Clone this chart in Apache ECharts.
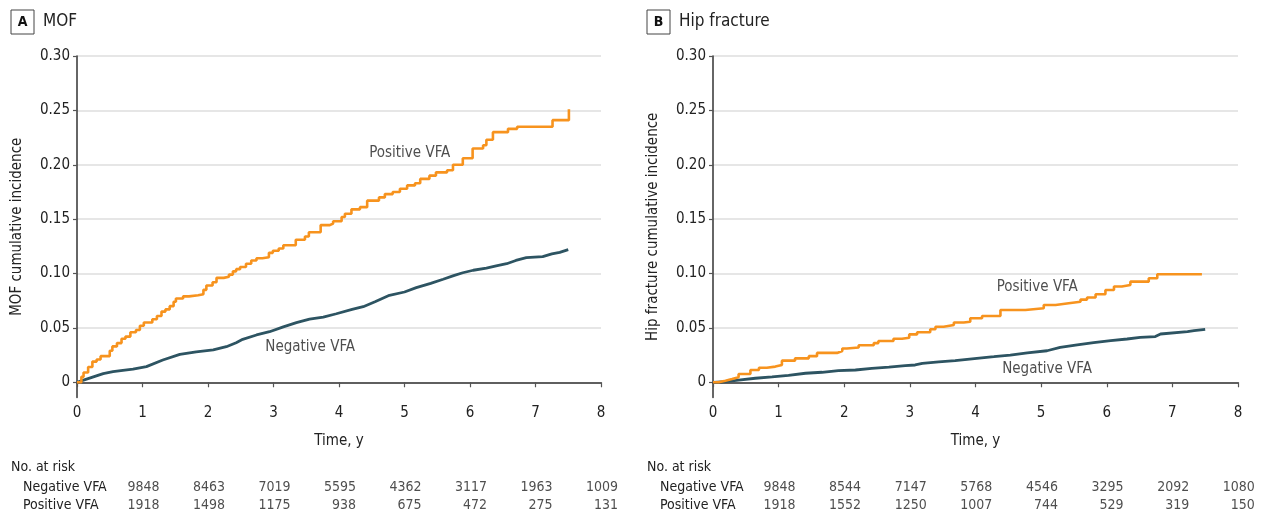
<!DOCTYPE html>
<html>
<head>
<meta charset="utf-8">
<script src="https://cdn.jsdelivr.net/npm/echarts@6/dist/echarts.min.js"></script>
<style>
  html, body { margin: 0; padding: 0; background: #fff; }
  #chart { width: 1262px; height: 515px; }
</style>
</head>
<body>
<div id="chart"></div>
<script>
// tick values
const yearTicks = [0, 1, 2, 3, 4, 5, 6, 7, 8]
const incidenceTicks = [0, 0.05, 0.10, 0.15, 0.20, 0.25, 0.30]

// number at risk, at years 0..7
const riskRows = ['Negative VFA', 'Positive VFA']
const mofRiskNegative = [9848, 8463, 7019, 5595, 4362, 3117, 1963, 1009]
const mofRiskPositive = [1918, 1498, 1175, 938, 675, 472, 275, 131]
const hipRiskNegative = [9848, 8544, 7147, 5768, 4546, 3295, 2092, 1080]
const hipRiskPositive = [1918, 1552, 1250, 1007, 744, 529, 319, 150]

// cumulative incidence curves [time, value]
const mofPositive = [
  [0, 0], [0.067, 0.005], [0.10, 0.009], [0.17, 0.014], [0.235, 0.019], [0.30, 0.021], [0.36, 0.024],
  [0.50, 0.029], [0.54, 0.033], [0.61, 0.036], [0.68, 0.040], [0.74, 0.042], [0.815, 0.046], [0.90, 0.048],
  [0.96, 0.052], [1.02, 0.055], [1.15, 0.058], [1.22, 0.061], [1.29, 0.065], [1.35, 0.067], [1.415, 0.070],
  [1.475, 0.074], [1.51, 0.077], [1.62, 0.079], [1.71, 0.080], [1.85, 0.081], [1.93, 0.085], [1.975, 0.089],
  [2.07, 0.092], [2.13, 0.096], [2.24, 0.097], [2.32, 0.099], [2.38, 0.102], [2.43, 0.104], [2.49, 0.106],
  [2.58, 0.109], [2.66, 0.112], [2.74, 0.114], [2.83, 0.115], [2.93, 0.119], [2.99, 0.121], [3.08, 0.123],
  [3.15, 0.126], [3.34, 0.131], [3.48, 0.134], [3.54, 0.138], [3.72, 0.1445], [3.86, 0.146], [3.91, 0.148],
  [4.04, 0.152], [4.09, 0.155], [4.19, 0.159], [4.32, 0.161], [4.43, 0.167], [4.61, 0.170], [4.70, 0.173],
  [4.82, 0.175], [4.93, 0.178], [5.04, 0.181], [5.16, 0.183], [5.24, 0.187], [5.38, 0.190], [5.48, 0.193],
  [5.65, 0.195], [5.74, 0.200], [5.89, 0.206], [6.04, 0.215], [6.20, 0.218], [6.25, 0.223], [6.35, 0.230],
  [6.58, 0.233], [6.72, 0.235], [7.26, 0.241], [7.51, 0.251]
]
const mofNegative = [
  [0, 0], [0.10, 0.002], [0.25, 0.005], [0.40, 0.008], [0.55, 0.0098], [0.70, 0.011], [0.855, 0.012],
  [1.06, 0.0144], [1.31, 0.0205], [1.57, 0.0257], [1.82, 0.028], [2.08, 0.0297], [2.28, 0.0327],
  [2.43, 0.0364], [2.53, 0.0395], [2.74, 0.0435], [2.94, 0.0465], [3.15, 0.051], [3.35, 0.0548],
  [3.55, 0.058], [3.76, 0.060], [3.96, 0.063], [4.20, 0.067], [4.37, 0.0695], [4.55, 0.074], [4.77, 0.080],
  [5.00, 0.083], [5.18, 0.087], [5.40, 0.091], [5.59, 0.0947], [5.75, 0.098], [5.89, 0.1007], [6.05, 0.103],
  [6.25, 0.105], [6.40, 0.107], [6.56, 0.109], [6.70, 0.112], [6.86, 0.1146], [7.11, 0.1155], [7.25, 0.118],
  [7.37, 0.1195], [7.50, 0.122]
]
const hipPositive = [
  [0, 0], [0.086, 0.0015], [0.19, 0.003], [0.29, 0.0046], [0.39, 0.0076], [0.57, 0.0113], [0.70, 0.0134],
  [0.82, 0.0144], [0.95, 0.0159], [1.05, 0.0199], [1.25, 0.022], [1.46, 0.024], [1.585, 0.027], [1.89, 0.0288],
  [1.97, 0.031], [2.04, 0.032], [2.22, 0.034], [2.45, 0.036], [2.52, 0.038], [2.75, 0.040], [2.88, 0.041],
  [2.99, 0.044], [3.11, 0.046], [3.31, 0.0487], [3.39, 0.051], [3.515, 0.0527], [3.67, 0.055], [3.82, 0.0557],
  [3.92, 0.0588], [4.10, 0.061], [4.38, 0.0665], [4.76, 0.068], [5.04, 0.071], [5.22, 0.0726], [5.42, 0.074],
  [5.60, 0.076], [5.70, 0.078], [5.83, 0.081], [5.98, 0.0848], [6.11, 0.088], [6.23, 0.0894], [6.36, 0.0925],
  [6.64, 0.0956], [6.77, 0.0993], [7.45, 0.0993]
]
const hipNegative = [
  [0, 0], [0.19, 0.0006], [0.39, 0.002], [0.645, 0.0037], [0.90, 0.005], [1.15, 0.0064], [1.41, 0.0083],
  [1.66, 0.0092], [1.91, 0.0107], [2.17, 0.0113], [2.42, 0.0128], [2.68, 0.014], [2.93, 0.0153],
  [3.08, 0.0159], [3.19, 0.0174], [3.44, 0.0187], [3.69, 0.0199], [4.02, 0.022], [4.28, 0.0235],
  [4.53, 0.025], [4.79, 0.027], [5.09, 0.029], [5.29, 0.032], [5.55, 0.0343], [5.80, 0.0364], [6.06, 0.0382],
  [6.31, 0.0398], [6.51, 0.0413], [6.74, 0.042], [6.82, 0.0444], [6.84, 0.0456], [7.23, 0.0465],
  [7.33, 0.0474], [7.50, 0.0487]
]

const FONT = "'Liberation Sans Narrow', 'DejaVu Sans Condensed', 'Roboto Condensed', 'Noto Sans', sans-serif"
const TEXT = '#222'
const ORANGE = '#f7931e'
const TEAL = '#2d5462'

const panels = [
  {left: 77, right: 661, letter: 'A', title: 'MOF', yName: 'MOF cumulative incidence',
   pos: mofPositive, neg: mofNegative, riskNeg: mofRiskNegative, riskPos: mofRiskPositive,
   posLabel: [5.08, 0.211], negLabel: [3.56, 0.032]},
  {left: 713, right: 24, letter: 'B', title: 'Hip fracture', yName: 'Hip fracture cumulative incidence',
   pos: hipPositive, neg: hipNegative, riskNeg: hipRiskNegative, riskPos: hipRiskPositive,
   posLabel: [4.94, 0.0877], negLabel: [5.09, 0.012]}
]

const grid = [], xAxis = [], yAxis = [], series = [], graphic = []

panels.forEach(function (p, i) {
  grid.push({left: p.left, right: p.right, top: 56, bottom: 117.5})
  grid.push({left: p.left, right: p.right, top: 477.5, height: 38})

  xAxis.push({
    gridIndex: 2 * i, type: 'value', min: 0, max: 8, interval: 1,
    name: 'Time, y', nameLocation: 'middle', nameGap: 36,
    nameTextStyle: {color: TEXT, fontSize: 15, fontFamily: FONT},
    axisLine: {lineStyle: {color: '#333', width: 1.5}},
    axisTick: {length: 5, lineStyle: {color: '#555', width: 1.2}},
    axisLabel: {color: TEXT, fontSize: 15, fontFamily: FONT, margin: 8},
    splitLine: {show: false}
  })
  xAxis.push({gridIndex: 2 * i + 1, type: 'value', min: 0, max: 8, show: false})

  yAxis.push({
    gridIndex: 2 * i, type: 'value', min: -0.014, max: 0.3,
    name: p.yName, nameLocation: 'middle', nameGap: 52,
    nameTextStyle: {color: TEXT, fontSize: 15, fontFamily: FONT},
    axisLine: {show: true, lineStyle: {color: '#333', width: 1.5}},
    axisTick: {show: true, length: 4, customValues: incidenceTicks, lineStyle: {color: '#555', width: 1.2}},
    axisLabel: {
      color: TEXT, fontSize: 15, fontFamily: FONT, margin: 7, customValues: incidenceTicks,
      formatter: function (v) { return Math.abs(v) < 1e-9 ? '0' : v.toFixed(2) }
    },
    splitLine: {show: true, lineStyle: {color: '#dedede', width: 1.5}}
  })
  yAxis.push({
    gridIndex: 2 * i + 1, type: 'category', data: riskRows, inverse: true,
    axisLine: {show: false}, axisTick: {show: false},
    axisLabel: {color: TEXT, fontSize: 14, fontFamily: FONT, align: 'left', margin: p.left === 77 ? 54 : 53}
  })

  series.push({
    type: 'line', xAxisIndex: 2 * i, yAxisIndex: 2 * i, data: p.neg,
    showSymbol: false, lineStyle: {color: TEAL, width: 2.8}, z: 3
  })
  series.push({
    type: 'line', xAxisIndex: 2 * i, yAxisIndex: 2 * i, step: 'end', data: p.pos,
    showSymbol: false, lineStyle: {color: ORANGE, width: 2.6}, z: 4
  })
  series.push({
    type: 'scatter', xAxisIndex: 2 * i, yAxisIndex: 2 * i, symbolSize: 0, silent: true,
    data: [p.posLabel.concat('Positive VFA'), p.negLabel.concat('Negative VFA')],
    label: {show: true, position: 'inside', formatter: function (d) { return d.data[2] },
      color: TEXT, fontSize: 15, fontFamily: FONT}
  })

  const rows = p.riskNeg.map(function (n, k) { return [k, riskRows[0], n] })
    .concat(p.riskPos.map(function (n, k) { return [k, riskRows[1], n] }))
  series.push({
    type: 'scatter', xAxisIndex: 2 * i + 1, yAxisIndex: 2 * i + 1, symbolSize: 0, silent: true,
    data: rows,
    label: {show: true, position: 'inside', align: 'right', offset: [82.5, 0],
      formatter: function (d) { return d.data[2] }, color: TEXT, fontSize: 14, fontFamily: FONT}
  })

  const bx = i === 0 ? 11 : 647
  graphic.push({type: 'rect', shape: {x: bx, y: 10, width: 23, height: 24},
    style: {fill: '#fff', stroke: '#444', lineWidth: 1}})
  graphic.push({type: 'text', x: bx + 11.5, y: 22,
    style: {text: p.letter, fill: '#111', font: 'bold 14px ' + FONT, textAlign: 'center', textVerticalAlign: 'middle'}})
  graphic.push({type: 'text', x: bx + 32, y: 22,
    style: {text: p.title, fill: TEXT, font: '17px ' + FONT, textVerticalAlign: 'middle'}})
  graphic.push({type: 'text', x: bx, y: 467,
    style: {text: 'No. at risk', fill: TEXT, font: '14px ' + FONT, textVerticalAlign: 'middle'}})
})

const chart = echarts.init(document.getElementById('chart'))
chart.setOption({
  animation: false,
  backgroundColor: '#fff',
  grid: grid,
  xAxis: xAxis,
  yAxis: yAxis,
  series: series,
  graphic: graphic
})
</script>
</body>
</html>
